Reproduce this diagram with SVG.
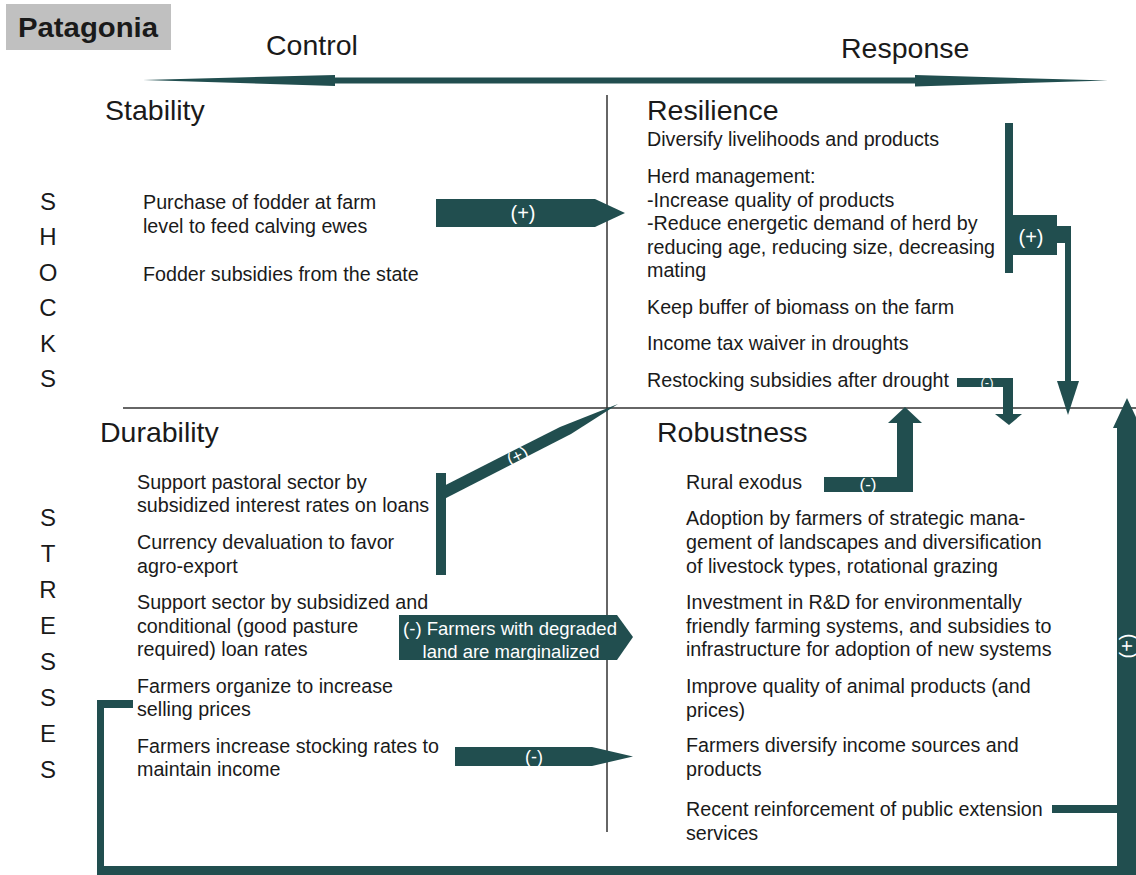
<svg xmlns="http://www.w3.org/2000/svg" width="1136" height="875" viewBox="0 0 1136 875">
<style>
text{font-family:"Liberation Sans",Arial,sans-serif;fill:#1a1a1a}
.b{font-size:19.7px}
.h{font-size:28.5px}
.v{font-size:24px;text-anchor:middle}
.w{fill:#fff;text-anchor:middle}
.a{fill:#214e4f}
.ln{stroke:#333;stroke-width:1.5;fill:none}
</style>
<rect width="1136" height="875" fill="#fff"/>
<g id="title">
<rect x="6" y="4" width="165" height="46" fill="#c0c0c0"/>
<text x="18" y="37" font-size="27" font-weight="bold" textLength="140" lengthAdjust="spacingAndGlyphs">Patagonia</text>
</g>
<g id="axis">
<text x="266" y="55" class="h">Control</text>
<text x="841" y="58" class="h">Response</text>
<polygon class="a" points="143,80 335,75 335,77.5 915,77.5 915,75 1108,80.5 915,86.5 915,83.5 335,83.5 335,86"/>
</g>
<g id="grid">
<line class="ln" x1="607" y1="95" x2="607" y2="832"/>
<line class="ln" x1="123" y1="408" x2="1136" y2="408"/>
</g>
<g id="side-labels">
<text class="v" x="48" y="210">S</text>
<text class="v" x="48" y="245">H</text>
<text class="v" x="48" y="281">O</text>
<text class="v" x="48" y="316">C</text>
<text class="v" x="48" y="352">K</text>
<text class="v" x="48" y="387">S</text>
<text class="v" x="48" y="526">S</text>
<text class="v" x="48" y="562">T</text>
<text class="v" x="48" y="598">R</text>
<text class="v" x="48" y="634">E</text>
<text class="v" x="48" y="670">S</text>
<text class="v" x="48" y="706">S</text>
<text class="v" x="48" y="742">E</text>
<text class="v" x="48" y="778">S</text>
</g>
<g id="stability">
<text x="105" y="120" class="h">Stability</text>
<text class="b" x="143" y="209">Purchase of fodder at farm</text>
<text class="b" x="143" y="233">level to feed calving ewes</text>
<text class="b" x="143" y="281">Fodder subsidies from the state</text>
</g>
<g id="resilience">
<text x="647" y="120" class="h">Resilience</text>
<text class="b" x="647" y="146">Diversify livelihoods and products</text>
<text class="b" x="647" y="183">Herd management:</text>
<text class="b" x="647" y="207">-Increase quality of products</text>
<text class="b" x="647" y="230">-Reduce energetic demand of herd by</text>
<text class="b" x="647" y="254">reducing age, reducing size, decreasing</text>
<text class="b" x="647" y="277">mating</text>
<text class="b" x="647" y="314">Keep buffer of biomass on the farm</text>
<text class="b" x="647" y="350">Income tax waiver in droughts</text>
<text class="b" x="647" y="387">Restocking subsidies after drought</text>
</g>
<g id="durability">
<text x="100" y="442" class="h">Durability</text>
<text class="b" x="137" y="489">Support pastoral sector by</text>
<text class="b" x="137" y="512">subsidized interest rates on loans</text>
<text class="b" x="137" y="549">Currency devaluation to favor</text>
<text class="b" x="137" y="573">agro-export</text>
<text class="b" x="137" y="609">Support sector by subsidized and</text>
<text class="b" x="137" y="633">conditional (good pasture</text>
<text class="b" x="137" y="656">required) loan rates</text>
<text class="b" x="137" y="693">Farmers organize to increase</text>
<text class="b" x="137" y="716">selling prices</text>
<text class="b" x="137" y="753">Farmers increase stocking rates to</text>
<text class="b" x="137" y="776">maintain income</text>
</g>
<g id="robustness">
<text x="657" y="442" class="h">Robustness</text>
<text class="b" x="686" y="489">Rural exodus</text>
<text class="b" x="686" y="525">Adoption by farmers of strategic mana-</text>
<text class="b" x="686" y="549">gement of landscapes and diversification</text>
<text class="b" x="686" y="573">of livestock types, rotational grazing</text>
<text class="b" x="686" y="609">Investment in R&amp;D for environmentally</text>
<text class="b" x="686" y="633">friendly farming systems, and subsidies to</text>
<text class="b" x="686" y="656">infrastructure for adoption of new systems</text>
<text class="b" x="686" y="693">Improve quality of animal products (and</text>
<text class="b" x="686" y="717">prices)</text>
<text class="b" x="686" y="752">Farmers diversify income sources and</text>
<text class="b" x="686" y="776">products</text>
<text class="b" x="686" y="816">Recent reinforcement of public extension</text>
<text class="b" x="686" y="840">services</text>
</g>
<g id="connectors">
<!-- stability -> resilience -->
<polygon class="a" points="436,199 595,199 625,213 595,227 436,227"/>
<text class="w" x="523" y="220" font-size="20">(+)</text>
<!-- resilience elbow -->
<rect class="a" x="1005" y="123" width="8" height="150"/>
<rect class="a" x="1012" y="215" width="45" height="40"/>
<rect class="a" x="1056" y="226" width="15" height="17"/>
<rect class="a" x="1065" y="240" width="6" height="143"/>
<polygon class="a" points="1057,381 1079,381 1068,415"/>
<text class="w" x="1031" y="244" font-size="20">(+)</text>
<!-- restocking -->
<rect class="a" x="957" y="378" width="56" height="9"/>
<rect class="a" x="1003" y="378" width="10" height="38"/>
<polygon class="a" points="995,414 1022,414 1009,425"/>
<text class="w" x="987" y="387" font-size="13">(-)</text>
<!-- durability diagonal -->
<rect class="a" x="436" y="473" width="10" height="102"/>
<polygon class="a" points="438.3,488.7 560,427 618,404 571,434 443.7,499.3"/>
<text class="w" x="0" y="0" font-size="17" transform="translate(520,461) rotate(-27)">(+)</text>
<!-- rural exodus -->
<rect class="a" x="824" y="477" width="89" height="15"/>
<rect class="a" x="897" y="422" width="16" height="70"/>
<polygon class="a" points="888,423 922,423 905,407"/>
<text class="w" x="868" y="490" font-size="17">(-)</text>
<!-- degraded land -->
<polygon class="a" points="399,615 617,615 633,637 617,660 399,660"/>
<text class="w" x="510" y="635" font-size="18.5">(-) Farmers with degraded</text>
<text class="w" x="511" y="658" font-size="18.5">land are marginalized</text>
<!-- stocking rates -->
<polygon class="a" points="455,747 592,747 633,756.5 592,766 455,766"/>
<text class="w" x="534" y="763" font-size="18">(-)</text>
<!-- bottom loop -->
<rect class="a" x="97" y="700" width="36" height="8"/>
<rect class="a" x="97" y="700" width="7" height="175"/>
<rect class="a" x="97" y="866" width="1030" height="9"/>
<rect class="a" x="1052" y="805" width="70" height="8"/>
<rect class="a" x="1117" y="426" width="20" height="449"/>
<polygon class="a" points="1113,428 1141,428 1127,398"/>
<text class="w" x="0" y="0" font-size="20" transform="translate(1134,646) rotate(-90)">(+)</text>
</g>
</svg>
